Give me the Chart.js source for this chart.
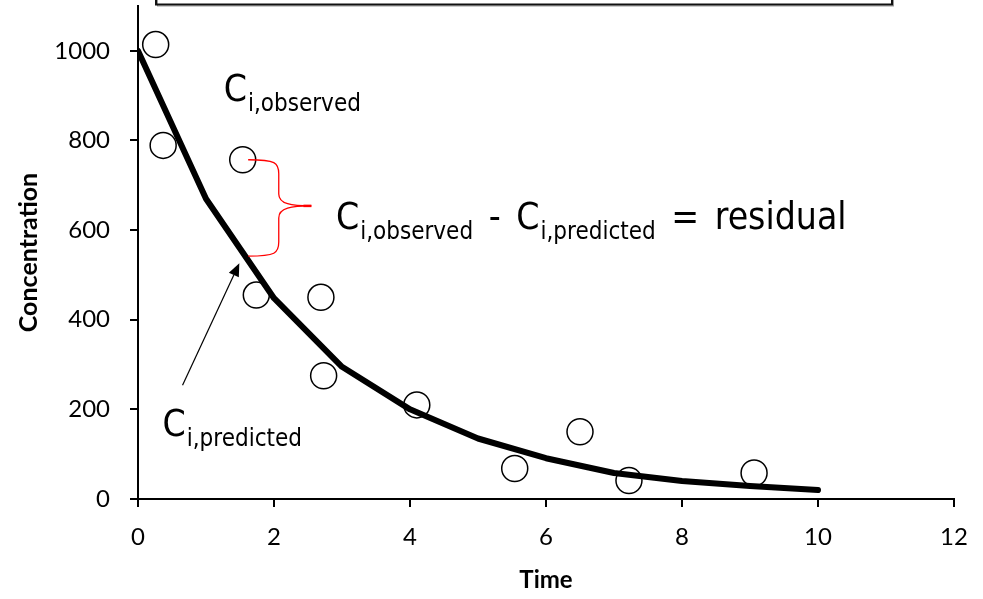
<!DOCTYPE html>
<html><head><meta charset="utf-8">
<script src="https://cdn.jsdelivr.net/npm/chart.js@4.4.1/dist/chart.umd.min.js"></script>
<style>html,body{margin:0;padding:0;background:#fff;} #wrap{width:983px;height:599px;}</style>
</head><body><div id="wrap"><canvas id="c" width="983" height="599"></canvas></div>
<script>
// Predicted concentration (model line)
const predTime = [0, 1, 2, 3, 4, 5, 6, 7, 8, 9, 10];
const predConc = [1000, 670, 448, 295, 200, 135, 91, 58, 40, 29, 20];
// Observed concentrations (circles)
const obsTime = [0.26, 0.37, 1.54, 1.74, 2.69, 2.73, 4.10, 5.54, 6.50, 7.22, 9.06];
const obsConc = [1014, 789, 757, 455, 450, 275, 210, 68, 150, 41, 58];
// Tick labels
const xTicks = [0, 2, 4, 6, 8, 10, 12];
const yTicks = [0, 200, 400, 600, 800, 1000];
const xTitle = 'Time';
const yTitle = 'Concentration';

const annot = {
  observedLabel: {x: 1.26, y: 889},
  residualLabel: {x: 2.91, y: 602},
  predictedLabel: {x: 0.36, y: 141},
  brace: {x1: 1.62, xm: 2.07, xt: 2.55, yTop: 757, yMid: 654, yBot: 542},
  arrow: {fromX: 0.655, fromY: 254, toX: 1.49, toY: 526}
};

const annotationPlugin = {
  id: 'annot',
  afterDraw(chart) {
    const ctx = chart.ctx, xs = chart.scales.x, ys = chart.scales.y;
    const X = v => xs.getPixelForValue(v), Y = v => ys.getPixelForValue(v);
    ctx.save();
    // clipped frame at top
    ctx.strokeStyle = '#999'; ctx.lineWidth = 1;
    ctx.strokeRect(157.5, -10, 736, 16);
    ctx.strokeStyle = '#111'; ctx.lineWidth = 2;
    ctx.strokeRect(156, -10, 736, 14.5);

    // pick condensed face if available
    ctx.font = '40px "DejaVu Sans Condensed", "DejaVu Sans"';
    const wc = ctx.measureText('observed residual').width;
    ctx.font = '40px "DejaVu Sans"';
    const wn = ctx.measureText('observed residual').width;
    const condensed = wc < wn * 0.97;
    const big = condensed ? '37px "DejaVu Sans Condensed"' : '34px "DejaVu Sans"';
    const small = condensed ? '24px "DejaVu Sans Condensed"' : '22px "DejaVu Sans"';
    const gap = condensed ? 5 : 4;
    function labelC(x0, y0, sub) {
      ctx.font = big; ctx.fillStyle = '#000'; ctx.textBaseline = 'alphabetic'; ctx.textAlign = 'left';
      ctx.fillText('C', x0, y0);
      let x = x0 + ctx.measureText('C').width + 1;
      ctx.font = small;
      ctx.fillText(sub, x, y0 + 10);
      return x + ctx.measureText(sub).width;
    }
    function plain(t, x0, y0) {
      ctx.font = big; ctx.fillText(t, x0, y0);
      return x0 + ctx.measureText(t).width;
    }
    let a = annot.observedLabel;
    labelC(X(a.x), Y(a.y), 'i,observed');
    a = annot.residualLabel;
    let px = X(a.x), py = Y(a.y);
    px = labelC(px, py, 'i,observed');
    px = plain(' - ', px + gap, py);
    px = labelC(px + gap, py, 'i,predicted');
    px = plain(' = ', px + gap, py);
    plain('residual', px + gap, py);
    a = annot.predictedLabel;
    labelC(X(a.x), Y(a.y), 'i,predicted');

    // brace
    const b = annot.brace;
    const x1 = X(b.x1), xm = X(b.xm), xt = X(b.xt), yT = Y(b.yTop), yM = Y(b.yMid), yB = Y(b.yBot);
    ctx.strokeStyle = '#ff0000'; ctx.lineWidth = 1.3;
    ctx.beginPath();
    ctx.moveTo(x1, yT);
    ctx.bezierCurveTo(x1 + (xm - x1) * 0.9, yT, xm, yT + 3, xm, yT + 14);
    ctx.lineTo(xm, yM - 12);
    ctx.bezierCurveTo(xm, yM - 2, xt - 20, yM, xt, yM);
    ctx.bezierCurveTo(xt - 20, yM, xm, yM + 2, xm, yM + 12);
    ctx.lineTo(xm, yB - 14);
    ctx.bezierCurveTo(xm, yB - 3, x1 + (xm - x1) * 0.9, yB, x1, yB);
    ctx.stroke();
    ctx.lineWidth = 2.5;
    ctx.beginPath(); ctx.moveTo(xt - 8, yM); ctx.lineTo(xt, yM); ctx.stroke();

    // arrow
    const ar = annot.arrow;
    const fx = X(ar.fromX), fy = Y(ar.fromY), tx = X(ar.toX), ty = Y(ar.toY);
    const ang = Math.atan2(ty - fy, tx - fx);
    const hl = 13, hw = 5.5;
    ctx.strokeStyle = '#000'; ctx.fillStyle = '#000'; ctx.lineWidth = 1.2;
    ctx.beginPath(); ctx.moveTo(fx, fy);
    ctx.lineTo(tx - Math.cos(ang) * hl, ty - Math.sin(ang) * hl); ctx.stroke();
    ctx.beginPath();
    ctx.moveTo(tx, ty);
    ctx.lineTo(tx - Math.cos(ang) * hl - Math.sin(ang) * hw, ty - Math.sin(ang) * hl + Math.cos(ang) * hw);
    ctx.lineTo(tx - Math.cos(ang) * hl + Math.sin(ang) * hw, ty - Math.sin(ang) * hl - Math.cos(ang) * hw);
    ctx.closePath(); ctx.fill();
    ctx.restore();
  }
};

const tickFont = {family: 'Lato', size: 24};
new Chart(document.getElementById('c'), {
  type: 'scatter',
  data: {
    datasets: [
      {
        label: 'Predicted',
        data: predTime.map((t, i) => ({x: t, y: predConc[i]})),
        showLine: true,
        borderColor: '#000',
        borderWidth: 6,
        borderCapStyle: 'round',
        borderJoinStyle: 'round',
        pointRadius: 0,
        tension: 0,
        fill: false
      },
      {
        label: 'Observed',
        data: obsTime.map((t, i) => ({x: t, y: obsConc[i]})),
        pointStyle: 'circle',
        pointRadius: 13,
        borderColor: '#000',
        borderWidth: 1.5,
        backgroundColor: 'rgba(255,255,255,0)'
      }
    ]
  },
  options: {
    responsive: false,
    devicePixelRatio: 1,
    animation: false,
    layout: {autoPadding: false, padding: {top: 6, right: 29, left: 0, bottom: 0}},
    plugins: {legend: {display: false}, tooltip: {enabled: false}},
    scales: {
      x: {
        type: 'linear', min: 0, max: 12,
        afterBuildTicks: s => { s.ticks = xTicks.map(v => ({value: v})); },
        afterFit: s => { s.height = 100; s.paddingLeft = 0; s.paddingRight = 0; },
        grid: {display: true, drawOnChartArea: false, drawTicks: true, tickLength: 8, color: '#000', lineWidth: 2},
        border: {display: true, color: '#000', width: 2},
        ticks: {font: tickFont, color: '#000', padding: 16, maxRotation: 0, callback: v => String(v)},
        title: {display: true, text: xTitle, color: '#000', font: {family: 'Lato', size: 24, weight: 'bold'}, padding: {top: 0, bottom: 4}}
      },
      y: {
        type: 'linear', min: 0, max: 1100,
        afterBuildTicks: s => { s.ticks = yTicks.map(v => ({value: v})); },
        afterFit: s => { s.width = 138; s.paddingTop = 0; s.paddingBottom = 0; },
        grid: {display: true, drawOnChartArea: false, drawTicks: true, tickLength: 8, color: '#000', lineWidth: 2},
        border: {display: true, color: '#000', width: 2},
        ticks: {font: tickFont, color: '#000', padding: 20, callback: v => String(v)},
        title: {display: true, text: yTitle, color: '#000', font: {family: 'Lato', size: 25, weight: 'bold'}, padding: {top: 14, bottom: 0}}
      }
    }
  },
  plugins: [annotationPlugin]
});
</script>
</body></html>
